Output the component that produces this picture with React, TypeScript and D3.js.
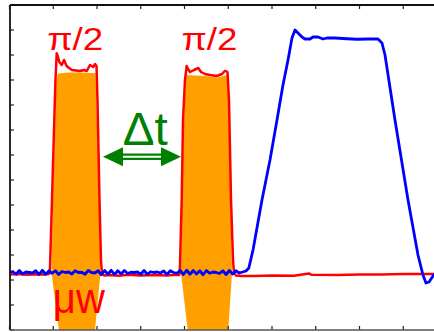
import React from "react";
import * as d3 from "d3";

// Canvas and plot frame
const W = 434;
const H = 332;
const FRAME = { left: 10, top: 5, right: 447, bottom: 330 };

// Axis domains (time in ns, signal in arbitrary units)
const X_DOMAIN: [number, number] = [0, 100];
const Y_DOMAIN: [number, number] = [-23, 107];
const X_TICKS = d3.range(0, 101, 10);
const Y_TICKS = d3.range(-23, 108, 10);

// Detected signal: noisy baseline sampled every 0.75 ns
const BLUE_BASE_STEP = 0.75;
const BLUE_BASE = [
  0, 0.4, -0.7, 0.8, -0.6, 0.2, 0, -0.2, 0.7, -0.8,
  0.9, -0.7, 0.6, -0.3, 0.7, -0.8, 0.4, 0, 0.2, -0.6,
  0.7, 0, 0.1, -0.7, 0.8, 0, -0.2, 0.7, -0.9, 0.8,
  -0.7, 0.9, -0.8, 0.7, -0.6, 0.8, -0.4, 0.1, 0, 0.2,
  -0.7, 0.8, -0.7, 0.3, 0, 0.2, -0.2, 0.6, -0.8, 0.7,
  0, -0.3, 0.8, -0.8, 0.9, -0.7, 0.8, -0.6, 0.7, -0.9,
  0.8, -0.3, 0.2, 0, -0.4, 0.7, -0.8, 0.8, -0.6, 0.7,
  -0.2,
];
// Detected signal: echo pulse (time, value)
const BLUE_PULSE_T = [
  54.06, 54.7, 55.66, 57.71, 59.54, 61.14, 62.51, 63.66, 64.57, 65.26,
  65.94, 66.86, 67.54, 68.69, 69.37, 70.51, 71.66, 72.57, 74.4, 77.14,
  79.43, 81.94, 84.23, 85.14, 85.83, 88.11, 91.09, 93.37, 94.51, 95.2,
  95.89, 96.8, 97.49,
];
const BLUE_PULSE_V = [
  0.6, 1.8, 9, 29, 45, 61, 75, 85, 93.8, 97,
  95.8, 94.2, 93.4, 93.4, 94.2, 94.2, 93.4, 93.8, 93.8, 93.5,
  93.3, 93.4, 93.4, 91.8, 87, 61, 29, 7, -1, -4.2,
  -3.8, -1.4, -0.2,
];

// Microwave drive: two π/2 pulses (time, value)
const RED_T = [
  0, 2, 4, 6, 8,
  9.03, 9.26, 9.71, 10.17, 10.51, 10.79, 11.09, 11.38, 11.93, 12.46,
  13.07, 13.6, 14.29, 15.2, 16.11, 17.03, 17.65, 18.4, 19.15, 19.54,
  19.89, 20.11, 20.57, 20.91, 21.14, 21.6,
  23, 25, 27, 30, 33, 36, 38,
  38.81, 38.97, 39.36, 39.66, 40.11, 40.5, 40.8, 41.26, 42.17, 43.15,
  43.77, 44.69, 45.83, 47.36, 48.57, 49.26, 49.83, 50.17, 50.63, 51.09,
  51.31, 51.77,
  53, 56, 60, 65, 68.5, 69, 75, 80, 85, 90, 95, 100,
];
const RED_V = [
  -0.8, -0.6, -0.9, -0.7, -0.8,
  -0.6, 1.8, 29, 57, 77, 87.7, 86.2, 84.2, 83, 85,
  82.6, 81.8, 81, 80.8, 80.6, 81, 80.6, 83, 82.2, 83.4,
  82.6, 69, 29, 5, -0.2, -1.2,
  -1.0, -1.3, -0.9, -1.2, -1.0, -1.2, -0.9,
  -1, 3, 29, 61, 77, 82.6, 81.4, 80.2, 81, 81.8,
  80.2, 79.4, 79, 78.6, 79.4, 80.7, 80.2, 69, 29, 5,
  -0.2, -1.2,
  -1.4, -1.4, -1.2, -1.3, -0.4, -0.9, -1.0, -0.8, -0.8, -0.6, -0.6, -0.5,
];

// Pulse envelopes (filled), running down to the bottom of the frame
const FILL1_T = [11.09, 13.5, 16, 18.5, 19.66, 20.46, 20.8, 19.54, 11.31, 9.6, 9.94, 10.74];
const FILL1_V = [79.6, 80, 80, 79.8, 79.8, 29, -0.2, -23, -23, -0.2, 29, 77];
const FILL2_T = [40.34, 44.69, 47.43, 49.9, 50.51, 50.86, 50.01, 40.73, 39.2, 39.43, 39.89];
const FILL2_V = [79, 78.6, 78, 79, 29, -0.2, -23, -23, -0.2, 29, 61];

// Annotation anchors (time of pulse ends / starts)
const PULSE_LABEL = "π/2";
const PULSE_LABEL_T = [8.6, 39.3];
const MW_LABEL = "μw";
const MW_LABEL_T = 9.9;
const DELAY_LABEL = "Δt";
const DELAY_T: [number, number] = [21.37, 39.2];

const RED = "#ff0000";
const BLUE = "#0000ff";
const ORANGE = "#ffa000";
const GREEN = "#008000";
const FONT = "'Liberation Sans', Arial, Helvetica, sans-serif";

export default function App() {
  const x = d3.scaleLinear().domain(X_DOMAIN).range([9.5, FRAME.right]);
  const y = d3.scaleLinear().domain(Y_DOMAIN).range([FRAME.bottom, FRAME.top]);

  const bluePts: [number, number][] = [
    ...BLUE_BASE.map((v, i) => [i * BLUE_BASE_STEP, v] as [number, number]),
    ...BLUE_PULSE_T.map((t, i) => [t, BLUE_PULSE_V[i]] as [number, number]),
  ];
  const redPts: [number, number][] = RED_T.map((t, i) => [t, RED_V[i]]);

  const line = d3
    .line<[number, number]>()
    .x((d) => x(d[0]))
    .y((d) => y(d[1]));

  const poly = (ts: number[], vs: number[]) =>
    line(ts.map((t, i) => [t, vs[i]] as [number, number])) + "Z";

  const arrowY = y(46.3);
  const ax0 = x(DELAY_T[0]);
  const ax1 = x(DELAY_T[1]);
  const headL = 20;
  const headH = 9.5;

  return (
    <div style={{ position: "fixed", left: 0, top: 0, width: W, height: H, background: "#fff" }}>
      <svg width={W} height={H} style={{ display: "block" }}>
        <defs>
          <clipPath id="plot-area">
            <rect x={FRAME.left} y={FRAME.top} width={FRAME.right - FRAME.left} height={FRAME.bottom - FRAME.top} />
          </clipPath>
        </defs>

        <g clipPath="url(#plot-area)">
          <path d={poly(FILL1_T, FILL1_V)} fill={ORANGE} />
          <path d={poly(FILL2_T, FILL2_V)} fill={ORANGE} />
          <path d={line(redPts) ?? ""} fill="none" stroke={RED} strokeWidth={2.5} strokeLinejoin="round" />
          <path d={line(bluePts) ?? ""} fill="none" stroke={BLUE} strokeWidth={2.8} strokeLinejoin="round" />
        </g>

        {/* frame with inward ticks */}
        <g stroke="#222" strokeWidth={1.2}>
          {X_TICKS.map((t) => (
            <g key={"xt" + t}>
              <line x1={x(t)} x2={x(t)} y1={FRAME.top} y2={FRAME.top + 4} />
              <line x1={x(t)} x2={x(t)} y1={FRAME.bottom} y2={FRAME.bottom - 4} />
            </g>
          ))}
          {Y_TICKS.map((v) => (
            <line key={"yt" + v} x1={FRAME.left} x2={FRAME.left + 4} y1={y(v)} y2={y(v)} />
          ))}
        </g>
        <g stroke="#111" strokeWidth={1.8} fill="none">
          <line x1={FRAME.left} x2={FRAME.left} y1={FRAME.top} y2={FRAME.bottom} />
          <line x1={FRAME.left} x2={W + 20} y1={FRAME.top} y2={FRAME.top} />
        </g>
        <line x1={FRAME.left} x2={W + 20} y1={FRAME.bottom} y2={FRAME.bottom} stroke="#555" strokeWidth={1.5} />

        {/* pulse labels */}
        {PULSE_LABEL_T.map((t, i) => (
          <text
            key={"pl" + i}
            x={x(t)}
            y={y(89.2)}
            fill={RED}
            fontFamily={FONT}
            fontSize={31}
            textLength={56}
            lengthAdjust="spacingAndGlyphs"
          >
            {PULSE_LABEL}
          </text>
        ))}
        <text x={x(MW_LABEL_T)} y={y(-16.3)} fill={RED} fontFamily={FONT} fontSize={42} textLength={52} lengthAdjust="spacingAndGlyphs">
          {MW_LABEL}
        </text>

        {/* delay annotation */}
        <text x={x(25.9)} y={y(51)} fill={GREEN} fontFamily={FONT} fontSize={46} textLength={45} lengthAdjust="spacingAndGlyphs">
          {DELAY_LABEL}
        </text>
        <g fill={GREEN} stroke="none">
          <path d={`M${ax0},${arrowY} L${ax0 + headL},${arrowY - headH} L${ax0 + headL},${arrowY + headH} Z`} />
          <path d={`M${ax1},${arrowY} L${ax1 - headL},${arrowY - headH} L${ax1 - headL},${arrowY + headH} Z`} />
        </g>
        <g stroke={GREEN} strokeWidth={2.2}>
          <line x1={ax0 + headL - 1} x2={ax1 - headL + 1} y1={arrowY - 2.1} y2={arrowY - 2.1} />
          <line x1={ax0 + headL - 1} x2={ax1 - headL + 1} y1={arrowY + 2.1} y2={arrowY + 2.1} />
        </g>
      </svg>
    </div>
  );
}
